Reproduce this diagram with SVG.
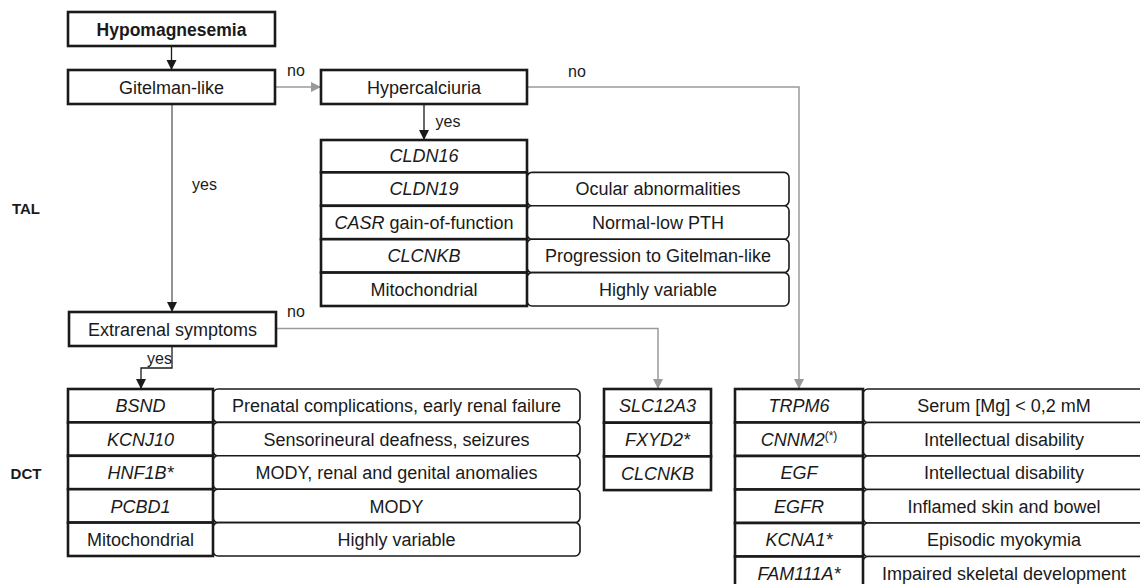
<svg xmlns="http://www.w3.org/2000/svg" width="1140" height="584" viewBox="0 0 1140 584">
<defs>
<style>
text{font-family:"Liberation Sans",Arial,sans-serif;font-size:18px;fill:#1a1a1a;text-anchor:middle}
.b{font-weight:bold}
.i{font-style:italic}
.lbl{font-size:16px}
.side{font-size:15px;font-weight:bold}
.box{fill:#fff;stroke:#1a1a1a;stroke-width:2.6}
.cell{fill:#fff;stroke:#1a1a1a;stroke-width:2.6}
.rc{fill:#fff;stroke:#1a1a1a;stroke-width:1.6}
.blk{fill:none;stroke:#1a1a1a;stroke-width:1.3}
.dk{fill:none;stroke:#666;stroke-width:1.4}
.gr{fill:none;stroke:#9a9a9a;stroke-width:1.5}
</style>
<marker id="ab" markerUnits="userSpaceOnUse" markerWidth="12" markerHeight="12" refX="10" refY="5" orient="auto"><path d="M0,0 L10,5 L0,10 Z" fill="#1a1a1a"/></marker>
<marker id="ag" markerUnits="userSpaceOnUse" markerWidth="12" markerHeight="12" refX="10" refY="5" orient="auto"><path d="M0,0 L10,5 L0,10 Z" fill="#999"/></marker>
</defs>
<rect width="1140" height="584" fill="#fff"/>

<g id="connectors">
<path class="blk" d="M171.5,46 V70" marker-end="url(#ab)"/>
<path class="gr" d="M275,87 H321" marker-end="url(#ag)"/>
<path class="blk" d="M424,104 V140" marker-end="url(#ab)"/>
<path class="gr" d="M527,87 H799 V389" marker-end="url(#ag)"/>
<path class="dk" d="M172,104 V312" marker-end="url(#ab)"/>
<path class="gr" d="M276,328.5 H658 V389" marker-end="url(#ag)"/>
<path class="blk" d="M172,346 V368 H141 V389" marker-end="url(#ab)"/>
<text class="lbl" x="296" y="76">no</text>
<text class="lbl" x="448" y="127">yes</text>
<text class="lbl" x="577" y="77">no</text>
<text class="lbl" x="204.5" y="190">yes</text>
<text class="lbl" x="296" y="317">no</text>
<text class="lbl" x="159.5" y="364">yes</text>
</g>

<g id="side-labels">
<text class="side" x="26" y="213.5">TAL</text>
<text class="side" x="26" y="478.5">DCT</text>
</g>

<g id="hypomagnesemia">
<rect class="box" x="68" y="12" width="207" height="34"/>
<text class="b" x="171.5" y="35.5" style="font-size:17.5px">Hypomagnesemia</text>
</g>
<g id="gitelman-like">
<rect class="box" x="68" y="70" width="207" height="34"/>
<text x="171.5" y="93.5">Gitelman-like</text>
</g>
<g id="hypercalciuria">
<rect class="box" x="321" y="70" width="206" height="34"/>
<text x="424" y="93.5">Hypercalciuria</text>
</g>
<g id="extrarenal-symptoms">
<rect class="box" x="69" y="312" width="207" height="34"/>
<text x="172.5" y="335.5">Extrarenal symptoms</text>
</g>

<g id="tal-table">
<rect class="rc" x="527" y="172.4" width="262" height="33.4" rx="5"/>
<rect class="rc" x="527" y="205.8" width="262" height="33.4" rx="5"/>
<rect class="rc" x="527" y="239.2" width="262" height="33.4" rx="5"/>
<rect class="rc" x="527" y="272.6" width="262" height="33.4" rx="5"/>
<rect class="cell" x="321" y="140" width="206" height="32.4"/>
<rect class="cell" x="321" y="172.4" width="206" height="33.4"/>
<rect class="cell" x="321" y="205.8" width="206" height="33.4"/>
<rect class="cell" x="321" y="239.2" width="206" height="33.4"/>
<rect class="cell" x="321" y="272.6" width="206" height="33.4"/>
<text class="i" x="424" y="162">CLDN16</text>
<text class="i" x="424" y="195">CLDN19</text>
<text x="424" y="228.5"><tspan font-style="italic">CASR</tspan> gain-of-function</text>
<text class="i" x="424" y="262">CLCNKB</text>
<text x="424" y="295.5">Mitochondrial</text>
<text x="658" y="195">Ocular abnormalities</text>
<text x="658" y="228.5">Normal-low PTH</text>
<text x="658" y="262">Progression to Gitelman-like</text>
<text x="658" y="295.5">Highly variable</text>
</g>

<g id="dct-table">
<rect class="rc" x="213" y="389" width="367" height="33.4" rx="5"/>
<rect class="rc" x="213" y="422.4" width="367" height="33.4" rx="5"/>
<rect class="rc" x="213" y="455.8" width="367" height="33.4" rx="5"/>
<rect class="rc" x="213" y="489.2" width="367" height="33.4" rx="5"/>
<rect class="rc" x="213" y="522.6" width="367" height="33.4" rx="5"/>
<rect class="cell" x="68" y="389" width="145" height="33.4"/>
<rect class="cell" x="68" y="422.4" width="145" height="33.4"/>
<rect class="cell" x="68" y="455.8" width="145" height="33.4"/>
<rect class="cell" x="68" y="489.2" width="145" height="33.4"/>
<rect class="cell" x="68" y="522.6" width="145" height="33.4"/>
<text class="i" x="140.5" y="412">BSND</text>
<text class="i" x="140.5" y="445.5">KCNJ10</text>
<text class="i" x="140.5" y="479">HNF1B*</text>
<text class="i" x="140.5" y="512.5">PCBD1</text>
<text x="140.5" y="545.5">Mitochondrial</text>
<text x="396.5" y="412">Prenatal complications, early renal failure</text>
<text x="396.5" y="445.5">Sensorineural deafness, seizures</text>
<text x="396.5" y="479">MODY, renal and genital anomalies</text>
<text x="396.5" y="512.5">MODY</text>
<text x="396.5" y="545.5">Highly variable</text>
</g>

<g id="gitelman-table">
<rect class="cell" x="604" y="389" width="107" height="33.7"/>
<rect class="cell" x="604" y="422.7" width="107" height="33.7"/>
<rect class="cell" x="604" y="456.4" width="107" height="33.7"/>
<text class="i" x="657.5" y="412">SLC12A3</text>
<text class="i" x="657.5" y="445.5">FXYD2*</text>
<text class="i" x="657.5" y="479.5">CLCNKB</text>
</g>

<g id="dct-other-table">
<rect class="rc" x="863" y="389" width="290" height="33.5" rx="5"/>
<rect class="rc" x="863" y="422.5" width="290" height="33.5" rx="5"/>
<rect class="rc" x="863" y="456" width="290" height="33.5" rx="5"/>
<rect class="rc" x="863" y="489.5" width="290" height="33.5" rx="5"/>
<rect class="rc" x="863" y="523" width="290" height="33.5" rx="5"/>
<rect class="rc" x="863" y="556.5" width="290" height="33.5" rx="5"/>
<rect class="cell" x="735" y="389" width="128" height="33.5"/>
<rect class="cell" x="735" y="422.5" width="128" height="33.5"/>
<rect class="cell" x="735" y="456" width="128" height="33.5"/>
<rect class="cell" x="735" y="489.5" width="128" height="33.5"/>
<rect class="cell" x="735" y="523" width="128" height="33.5"/>
<rect class="cell" x="735" y="556.5" width="128" height="33.5"/>
<text class="i" x="799" y="412">TRPM6</text>
<text x="799" y="445.5"><tspan font-style="italic">CNNM2</tspan><tspan font-size="12" dy="-6">(*)</tspan></text>
<text class="i" x="799" y="479">EGF</text>
<text class="i" x="799" y="512.5">EGFR</text>
<text class="i" x="799" y="546">KCNA1*</text>
<text class="i" x="799" y="579.5">FAM111A*</text>
<text x="1004" y="412">Serum [Mg] &lt; 0,2 mM</text>
<text x="1004" y="445.5">Intellectual disability</text>
<text x="1004" y="479">Intellectual disability</text>
<text x="1004" y="512.5">Inflamed skin and bowel</text>
<text x="1004" y="546">Episodic myokymia</text>
<text x="1004" y="579.5">Impaired skeletal development</text>
</g>
</svg>
